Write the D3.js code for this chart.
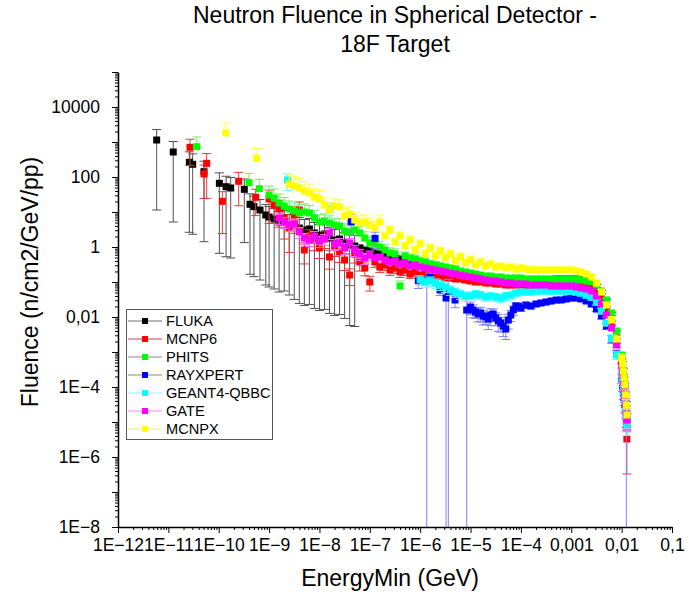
<!DOCTYPE html>
<html><head><meta charset="utf-8">
<script src="https://cdn.jsdelivr.net/npm/d3@7"></script>
<style>
html,body{margin:0;padding:0;background:#fff}
svg{display:block}
text{font-family:"Liberation Sans",Arial,Helvetica,sans-serif;fill:#000}
</style>
</head><body>
<svg id="chart" width="689" height="592"></svg>
<script>
// ---------------- DATA ----------------
const titleLines = ["Neutron Fluence in Spherical Detector -", "18F Target"];
const xTitle = "EnergyMin (GeV)";
const yTitle = "Fluence (n/cm2/GeV/pp)";

const xTickValues = [1e-12,1e-11,1e-10,1e-9,1e-8,1e-7,1e-6,1e-5,1e-4,1e-3,1e-2,1e-1];
const xTickLabels = ["1E\u221212","1E\u221211","1E\u221210","1E\u22129","1E\u22128","1E\u22127","1E\u22126","1E\u22125","1E\u22124","0,001","0,01","0,1"];
const yDecades = [1e-8,1e-7,1e-6,1e-5,1e-4,1e-3,1e-2,1e-1,1,10,100,1000,1e4,1e5];
const yTickValues = [1e-8,1e-6,1e-4,1e-2,1,100,10000];
const yTickLabels = ["1E\u22128","1E\u22126","1E\u22124","0,01","1","100","10000"];

const seriesNames = ["FLUKA","MCNP6","PHITS","RAYXPERT","GEANT4-QBBC","GATE","MCNPX"];

// shared energy bins (GeV)
const gridE = [
 1e-9,1.26e-9,1.58e-9,2e-9,2.51e-9,3.16e-9,3.98e-9,5.01e-9,6.31e-9,7.94e-9,
 1e-8,1.26e-8,1.58e-8,2e-8,2.51e-8,3.16e-8,3.98e-8,5.01e-8,6.31e-8,7.94e-8,
 1e-7,1.26e-7,1.58e-7,2e-7,2.51e-7,3.16e-7,3.98e-7,5.01e-7,6.31e-7,7.94e-7,
 1e-6,1.26e-6,1.58e-6,2e-6,2.51e-6,3.16e-6,3.98e-6,5.01e-6,6.31e-6,7.94e-6,
 1e-5,1.26e-5,1.58e-5,2e-5,2.51e-5,3.16e-5,3.98e-5,5.01e-5,6.31e-5,7.94e-5,
 1e-4,1.26e-4,1.58e-4,2e-4,2.51e-4,3.16e-4,3.98e-4,5.01e-4,6.31e-4,7.94e-4,
 1e-3,1.26e-3,1.58e-3,2e-3,2.51e-3,3.16e-3,3.98e-3,5.01e-3,6.31e-3,7.94e-3,
 0.01,0.0104,0.0108,0.0112,0.0116,0.012,0.0124,0.0127];

// FLUKA
const flukaEarlyE = [5.86e-12,1.25e-11,2.61e-11,3.04e-11,5.1e-11,1.03e-10,1.4e-10,1.73e-10,3.22e-10,4.18e-10,5.0e-10,6.6e-10,8.6e-10];
const flukaEarlyF = [1140,518,263,231,142,66,52.8,48.5,44.5,16.6,14.2,11.4,8.21];
const flukaEarlyErr = [.99,.99,.99,.99,.99,.99,.99,.99,.97,.99,.99,.99,.99];
const flukaF = [
 7.2,6.31,5.18,5.53,4.25,4.54,3.49,3.06,3.27,2.51,
 2.2,2.35,1.81,1.58,1.69,1.3,1.14,1.07,0.936,0.821,
 0.768,0.674,0.631,0.553,0.518,0.485,0.454,0.398,0.373,0.349,
 0.327,0.306,0.286,0.268,0.251,0.235,0.22,0.206,0.181,0.169,
 0.158,0.148,0.139,0.139,0.13,0.122,0.122,0.114,0.114,0.107,
 0.107,0.107,0.107,0.114,0.114,0.114,0.114,0.122,0.122,0.122,
 0.122,0.122,0.114,0.107,0.0936,0.0768,0.0518,0.0286,0.0122,0.00349,
 7.68e-4,4.54e-4,2.86e-4,1.69e-4,1e-4,5.53e-5,2.86e-5,1.22e-5];
const flukaErr = [
 .99,.99,.99,.99,.99,.993,.993,.993,.993,.993,
 .993,.993,.993,.993,.993,.993,.995,.995,.2,.15,
 .15,.15,.15,.15,.15,.15,.1,.1,.1,.1,
 .1,.1,.1,.1,.1,.1,.1,.1,.1,.1,
 .1,.1,.1,.1,.1,.1,.1,.1,.1,.1,
 .1,.1,.1,.1,.1,.1,.1,.1,.1,.1,
 .1,.1,.1,.1,.1,.1,.1,.1,.12,.14,
 .15,.15,.18,.2,.25,.3,.35,.4];

// MCNP6
const mcnp6EarlyE = [2.69e-11,5.1e-11,5.77e-11,1.18e-10,2.49e-10,5.42e-10];
const mcnp6EarlyF = [705,122,246,20.2,75.4,26.3];
const mcnp6EarlyErr = [.7,.8,.9,.88,.8,.7];
const mcnp6F = [
 23.5,15.8,12.2,6.74,3.49,8.21,11.4,0.821,2.06,1.58,
 0.936,1.81,0.518,1.07,0.72,0.425,0.158,0.631,0.373,0.251,
 0.1,0.373,0.268,0.306,0.22,0.251,0.193,0.22,0.169,0.193,
 0.158,0.169,0.148,0.139,0.148,0.13,0.13,0.122,0.122,0.114,
 0.107,0.1,0.1,0.0936,0.0936,0.0877,0.0877,0.0821,0.0821,0.0821,
 0.0821,0.0768,0.0768,0.0768,0.0768,0.072,0.072,0.072,0.072,0.072,
 0.072,0.072,0.072,0.0674,0.0631,0.0485,0.0327,0.0169,0.00674,0.00206,
 5.53e-4,3.27e-4,1.93e-4,1.14e-4,6.31e-5,3.27e-5,1.39e-5,3.27e-6];
const mcnp6Err = [
 .8,.7,.7,.75,.8,.7,.7,.6,.5,.5,
 .5,.5,.55,.5,.5,.5,.5,.45,.45,.4,
 .45,.3,.3,.3,.3,.3,.3,.3,.25,.25,
 .2,.15,.15,.15,.15,.15,.15,.15,.15,.15,
 .15,.1,.1,.1,.1,.1,.1,.1,.1,.1,
 .1,.1,.1,.1,.1,.1,.1,.1,.1,.1,
 .1,.1,.1,.1,.1,.1,.1,.12,.12,.15,
 .18,.2,.25,.3,.35,.4,.5,.9];

// PHITS
const phitsEarlyE = [3.66e-11,3.99e-10,6.4e-10];
const phitsEarlyF = [734,68.8,46.3];
const phitsEarlyErr = [.9,.85,.85];
const phitsF = [
 30.6,25.1,18.1,14.8,12.2,10.7,9.36,10,9.36,6.74,
 5.18,5.53,4.85,4.25,3.98,2.86,2.68,3.06,2.51,1.81,
 1.3,1.22,1,0.821,0.674,0.631,0.0768,0.553,0.485,0.454,
 0.398,0.373,0.327,0.306,0.286,0.268,0.251,0.235,0.206,0.193,
 0.181,0.169,0.158,0.148,0.148,0.139,0.139,0.13,0.13,0.13,
 0.13,0.122,0.122,0.122,0.122,0.122,0.122,0.122,0.122,0.122,
 0.122,0.122,0.114,0.107,0.1,0.0821,0.0553,0.0306,0.013,0.00398,
 8.21e-4,5.18e-4,3.06e-4,1.81e-4,1.07e-4,5.91e-5,3.06e-5,1.48e-5];
const phitsErr = [
 .8,.8,.8,.75,.7,.7,.7,.7,.65,.65,
 .6,.6,.6,.55,.6,.6,.55,.6,.5,.5,
 .5,.5,.45,.45,.4,.4,.4,.3,.3,.3,
 .3,.3,.25,.25,.2,.2,.2,.2,.15,.15,
 .15,.15,.15,.15,.15,.15,.15,.15,.15,.15,
 .15,.12,.12,.12,.12,.12,.12,.12,.12,.12,
 .12,.12,.12,.12,.12,.12,.12,.12,.14,.15,
 .18,.2,.25,.3,.35,.4,.45,.5];

// RAYXPERT
const rayEarlyE = [4.24e-8,1.27e-7,9.18e-7,1.35e-6,1.57e-6,2.48e-6,3.26e-6,3.62e-6,4.92e-6,8.39e-6,
 1.12e-5,1.41e-5,1.78e-5,2.24e-5,2.82e-5,3.55e-5,4.47e-5,5.62e-5,7.08e-5,8.91e-5];
const rayEarlyF = [5.28,1.77,0.109,0.114,0.136,0.0591,0.0349,0.0518,0.0306,0.0158,
 0.0158,0.0122,0.0107,0.0087,0.0122,0.0078,0.0055,0.0082,0.016,0.02];
const rayEarlyErr = [.6,.5,.4,1.2,.3,.3,1.3,1.3,.4,1.3,
 .4,.4,.45,.5,.4,.5,.5,.45,.3,.25];
const rayF = [
 null,null,null,null,null,null,null,null,null,null,
 null,null,null,null,null,null,null,null,null,null,
 null,null,null,null,null,null,null,null,null,null,
 null,null,null,null,null,null,null,null,null,null,
 0.0193,0.0139,0.013,0.01,0.0114,0.00936,0.00674,0.00454,0.0114,0.0206,
 0.0181,0.022,0.0206,0.0235,0.0251,0.0268,0.0286,0.0306,0.0306,0.0327,
 0.0349,0.0349,0.0327,0.0286,0.0235,0.0169,0.0107,0.00553,0.00235,8.77e-4,
 1.81e-4,1.07e-4,6.74e-5,4.54e-5,3.06e-5,2.06e-5,1.3e-5,8.77e-6];
const rayErr = [
 null,null,null,null,null,null,null,null,null,null,
 null,null,null,null,null,null,null,null,null,null,
 null,null,null,null,null,null,null,null,null,null,
 null,null,null,null,null,null,null,null,null,null,
 .4,.35,.45,.4,.5,.4,.45,.5,.35,.25,
 .2,.2,.18,.15,.15,.15,.15,.15,.15,.15,
 .15,.15,.15,.15,.15,.15,.18,.2,.25,.3,
 .3,.3,.35,.35,.4,.4,1.3,.4];

// GEANT4-QBBC
const geantEarlyE = [2.32e-9,1.62e-8];
const geantEarlyF = [82.1,12.2];
const geantEarlyErr = [.5,.5];
const geantF = [
 null,null,null,null,null,null,null,null,null,null,
 null,null,null,null,null,null,null,null,null,null,
 null,null,null,null,null,null,null,null,null,null,
 0.114,0.1,0.107,0.0936,0.0821,0.072,0.0591,0.0518,0.0454,0.0398,
 0.0398,0.0454,0.0425,0.0373,0.0398,0.0373,0.0349,0.0398,0.0425,0.0485,
 0.0518,0.0518,0.0518,0.0553,0.0553,0.0553,0.0553,0.0553,0.0553,0.0553,
 0.0553,0.0518,0.0485,0.0425,0.0373,0.0268,0.0148,0.00674,0.00251,8.21e-4,
 2.35e-4,1.48e-4,9.36e-5,5.91e-5,3.73e-5,2.35e-5,1.39e-5,8.21e-6];
const geantErr = [
 null,null,null,null,null,null,null,null,null,null,
 null,null,null,null,null,null,null,null,null,null,
 null,null,null,null,null,null,null,null,null,null,
 .3,.3,.3,.3,.3,.3,.3,.3,.3,.3,
 .3,.25,.25,.25,.25,.25,.25,.25,.2,.2,
 .18,.18,.18,.18,.18,.18,.18,.18,.18,.18,
 .18,.18,.18,.18,.18,.18,.18,.18,.2,.25,
 .3,.3,.35,.35,.4,.4,.45,.5];

// GATE
const gateF = [
 null,null,6.74,5.18,4.25,4.54,2.68,1.81,1.58,2.06,
 1.48,1.69,2.51,1.22,1.3,0.936,1.3,0.821,0.631,0.485,
 0.591,0.485,0.518,0.425,0.373,0.398,0.327,0.349,0.286,0.306,
 0.268,0.251,0.235,0.22,0.206,0.193,0.181,0.169,0.158,0.148,
 0.139,0.13,0.122,0.114,0.107,0.107,0.1,0.0936,0.0936,0.0877,
 0.0877,0.0877,0.0821,0.0821,0.0821,0.0821,0.0768,0.0768,0.0768,0.0768,
 0.0768,0.072,0.0674,0.0631,0.0553,0.0398,0.0235,0.0114,0.00485,0.00158,
 4.25e-4,2.68e-4,1.58e-4,9.36e-5,5.53e-5,3.06e-5,1.69e-5,1.14e-5];
const gateErr = [
 null,null,.35,.35,.35,.35,.35,.35,.35,.35,
 .35,.35,.35,.35,.35,.35,.35,.35,.35,.35,
 .3,.15,.15,.15,.15,.15,.15,.15,.15,.15,
 .15,.15,.15,.15,.15,.15,.15,.15,.15,.15,
 .15,.12,.12,.12,.12,.12,.12,.12,.12,.12,
 .12,.12,.12,.12,.12,.12,.12,.12,.12,.12,
 .12,.12,.12,.12,.12,.12,.12,.12,.12,.15,
 .18,.2,.25,.3,.35,.4,.45,.5];

// MCNPX
const mcnpxEarlyE = [1.38e-10,5.68e-10];
const mcnpxEarlyF = [1810,342];
const mcnpxEarlyErr = [.9,.9];
const mcnpxF = [
 null,null,null,null,63.1,55.3,48.5,39.8,34.9,26.8,
 23.5,15.8,11.4,14.8,13.9,7.68,8.77,5.91,4.85,5.18,
 4.25,3.49,5.18,2.06,3.06,1.39,2.06,1.07,1.58,0.821,
 1.22,0.631,0.936,0.553,0.768,0.485,0.631,0.398,0.518,0.349,
 0.425,0.306,0.373,0.286,0.327,0.268,0.286,0.251,0.268,0.235,
 0.251,0.235,0.22,0.22,0.22,0.22,0.22,0.22,0.22,0.22,
 0.22,0.206,0.193,0.169,0.139,0.0936,0.0518,0.022,0.00821,0.00235,
 6.74e-4,4.54e-4,2.86e-4,1.81e-4,1.14e-4,5.91e-5,3.06e-5,1.58e-5];
const mcnpxErr = [
 null,null,null,null,.9,.9,.85,.85,.8,.8,
 .75,.6,.6,.6,.6,.6,.6,.6,.6,.6,
 .6,.6,.6,.3,.3,.3,.3,.3,.3,.3,
 .3,.3,.3,.3,.3,.3,.3,.3,.3,.3,
 .3,.2,.2,.2,.2,.2,.2,.2,.2,.2,
 .2,.2,.2,.2,.2,.2,.2,.2,.2,.2,
 .2,.2,.2,.2,.2,.2,.2,.2,.25,.3,
 .3,.3,.35,.35,.4,.4,.45,.5];

// ---------------- CHART ----------------
const plot = {left:118, right:672, top:72, bottom:527};
const svg = d3.select("#chart");

const x = d3.scaleLog().domain([1e-12, 0.1]).range([plot.left, plot.right]);
const y = d3.scaleLog().domain([1e-8, 1e5]).range([plot.bottom, plot.top]);

const series = [
 {name:seriesNames[0], color:"#000000", bar:"#505050", leg:"#707070", dir:"both",
  E:flukaEarlyE.concat(gridE), F:flukaEarlyF.concat(flukaF), R:flukaEarlyErr.concat(flukaErr)},
 {name:seriesNames[1], color:"#ff0000", bar:"#e83a3a", leg:"#b04848", dir:"both",
  E:mcnp6EarlyE.concat(gridE), F:mcnp6EarlyF.concat(mcnp6F), R:mcnp6EarlyErr.concat(mcnp6Err)},
 {name:seriesNames[2], color:"#00ff00", bar:"#70f070", leg:"#8a8a8a", dir:"plus",
  E:phitsEarlyE.concat(gridE), F:phitsEarlyF.concat(phitsF), R:phitsEarlyErr.concat(phitsErr)},
 {name:seriesNames[3], color:"#0000ff", bar:"#8080ff", leg:"#8a8a8a", dir:"both",
  E:rayEarlyE.concat(gridE), F:rayEarlyF.concat(rayF), R:rayEarlyErr.concat(rayErr)},
 {name:seriesNames[4], color:"#00ffff", bar:"#60ffff", leg:"#8cf8f8", dir:"both",
  E:geantEarlyE.concat(gridE), F:geantEarlyF.concat(geantF), R:geantEarlyErr.concat(geantErr)},
 {name:seriesNames[5], color:"#ff00ff", bar:"#ff66ff", leg:"#ff88ff", dir:"both",
  E:gridE, F:gateF, R:gateErr},
 {name:seriesNames[6], color:"#ffff00", bar:"#ffff40", leg:"#eeee70", dir:"plus",
  E:mcnpxEarlyE.concat(gridE), F:mcnpxEarlyF.concat(mcnpxF), R:mcnpxEarlyErr.concat(mcnpxErr)}
];

// data layer
const dataG = svg.append("g");
const capW = 4.5, mk = 7;
series.forEach(s => {
  const pts = s.E.map((e,i)=>({e:e, f:s.F[i], r:s.R[i]})).filter(d => d.f != null);
  pts.forEach(d => {
    d.px = x(d.e);
    d.py = y(d.f);
    d.hi = y(d.f * (1 + d.r));
    const lo = d.f * (1 - d.r);
    d.loClamped = !(lo > 1e-8);
    d.lo = s.dir === "both" ? (d.loClamped ? plot.bottom : y(lo)) : d.py;
  });
  const g = dataG.append("g");
  const bg = g.append("g").attr("stroke", s.bar).attr("stroke-width", 1).attr("fill", "none");
  bg.selectAll("line.v").data(pts).join("line").attr("class","v")
    .attr("x1", d=>d.px).attr("x2", d=>d.px).attr("y1", d=>d.hi).attr("y2", d=>d.lo);
  bg.selectAll("line.ct").data(pts).join("line").attr("class","ct")
    .attr("x1", d=>d.px-capW).attr("x2", d=>d.px+capW).attr("y1", d=>d.hi).attr("y2", d=>d.hi);
  if (s.dir === "both") {
    bg.selectAll("line.cb").data(pts.filter(d=>!d.loClamped)).join("line").attr("class","cb")
      .attr("x1", d=>d.px-capW).attr("x2", d=>d.px+capW).attr("y1", d=>d.lo).attr("y2", d=>d.lo);
  }
  g.append("g").selectAll("rect").data(pts).join("rect")
    .attr("x", d=>d.px-mk/2).attr("y", d=>d.py-mk/2).attr("width", mk).attr("height", mk)
    .attr("fill", s.color);
});

// axes
function minorTicks(decs){
  const out=[];
  decs.forEach(d=>{ for(let k=2;k<=9;k++) out.push(k*d); });
  return out;
}
const xDecs = xTickValues.slice(0, -1);
const gxMinor = svg.append("g").attr("transform", `translate(0,${plot.bottom})`)
  .call(d3.axisBottom(x).tickValues(minorTicks(xDecs)).tickSize(3).tickFormat("").tickSizeOuter(0));
gxMinor.select(".domain").remove();
const gx = svg.append("g").attr("transform", `translate(0,${plot.bottom})`)
  .call(d3.axisBottom(x).tickValues(xTickValues).tickSize(6).tickPadding(6).tickSizeOuter(0)
        .tickFormat((d,i)=>xTickLabels[i]));
gx.selectAll("text").attr("font-size", 17.5).attr("fill","#000");

const yDecsMinor = yDecades.slice(0, -1);
const gyMinor = svg.append("g").attr("transform", `translate(${plot.left},0)`)
  .call(d3.axisLeft(y).tickValues(minorTicks(yDecsMinor)).tickSize(3).tickFormat("").tickSizeOuter(0));
gyMinor.select(".domain").remove();
const gyMajor = svg.append("g").attr("transform", `translate(${plot.left},0)`)
  .call(d3.axisLeft(y).tickValues(yDecades).tickSize(6).tickFormat("").tickSizeOuter(0));
gyMajor.select(".domain").remove();
const gy = svg.append("g").attr("transform", `translate(${plot.left},0)`)
  .call(d3.axisLeft(y).tickValues(yTickValues).tickSize(6).tickPadding(12).tickSizeOuter(0)
        .tickFormat((d,i)=>yTickLabels[i]));
gy.selectAll("text").attr("font-size", 17.5).attr("fill","#000");

svg.selectAll(".domain").attr("stroke","#000").attr("stroke-width",1.5);
svg.selectAll(".tick line").attr("stroke","#000").attr("stroke-width",1);

// titles
svg.append("text").attr("x", 395).attr("y", 23).attr("text-anchor","middle")
  .attr("font-size", 23).text(titleLines[0]);
svg.append("text").attr("x", 395).attr("y", 52).attr("text-anchor","middle")
  .attr("font-size", 23).text(titleLines[1]);
svg.append("text").attr("x", 390).attr("y", 586).attr("text-anchor","middle")
  .attr("font-size", 23).text(xTitle);
svg.append("text").attr("transform","translate(38,282) rotate(-90)").attr("text-anchor","middle")
  .attr("font-size", 23).text(yTitle);

// legend
const leg = svg.append("g");
leg.append("rect").attr("x",126.5).attr("y",309.5).attr("width",146).attr("height",130)
  .attr("fill","#fff").attr("stroke","#555").attr("stroke-width",1);
series.forEach((s,i)=>{
  const cy = 321 + i*18;
  leg.append("line").attr("x1",128).attr("x2",162).attr("y1",cy).attr("y2",cy)
    .attr("stroke", s.leg).attr("stroke-width",1);
  leg.append("rect").attr("x",145-3).attr("y",cy-3).attr("width",6).attr("height",6).attr("fill", s.color);
  leg.append("text").attr("x",166).attr("y",cy).attr("dy","0.35em").attr("font-size",14.6).text(s.name);
});
</script>
</body></html>
